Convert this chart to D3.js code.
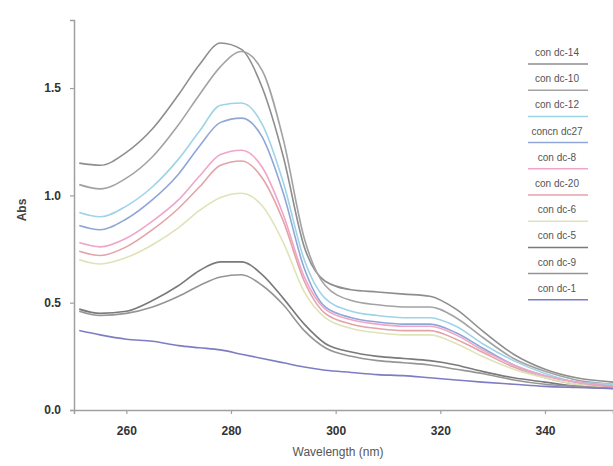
<!DOCTYPE html>
<html>
<head>
<meta charset="utf-8">
<script src="https://cdn.jsdelivr.net/npm/d3@7"></script>
<style>
  body { margin: 0; background: #fff; }
  text { font-family: "Liberation Sans", Arial, sans-serif; }
</style>
</head>
<body>
<svg width="613" height="466"></svg>
<script>
// wavelength samples (nm)
var wavelengths = [251, 255, 260, 265, 270, 274, 278, 282, 286, 290, 294, 298, 303, 308, 313, 318, 323, 328, 334, 340, 346, 353];

var seriesNames = ["con dc-14", "con dc-10", "con dc-12", "concn dc27", "con dc-8", "con dc-20", "con dc-6", "con dc-5", "con dc-9", "con dc-1"];
var seriesColors = ["#8e8e8e", "#a3a3a3", "#9fd3e8", "#8fa6d8", "#efa6c8", "#e3a3a8", "#dfe3b8", "#7a7a7a", "#959595", "#7d7dc4"];

var abs1 = [1.15, 1.14, 1.20, 1.31, 1.47, 1.61, 1.71, 1.68, 1.50, 1.18, 0.76, 0.60, 0.56, 0.55, 0.54, 0.53, 0.47, 0.37, 0.26, 0.19, 0.15, 0.13];
var abs2 = [1.05, 1.03, 1.08, 1.18, 1.33, 1.47, 1.60, 1.67, 1.58, 1.26, 0.80, 0.58, 0.51, 0.49, 0.48, 0.48, 0.43, 0.34, 0.24, 0.18, 0.14, 0.12];
var abs3 = [0.92, 0.90, 0.95, 1.04, 1.17, 1.30, 1.42, 1.43, 1.33, 1.06, 0.70, 0.52, 0.46, 0.44, 0.43, 0.43, 0.39, 0.31, 0.23, 0.17, 0.13, 0.12];
var abs4 = [0.86, 0.84, 0.89, 0.98, 1.10, 1.23, 1.34, 1.36, 1.27, 1.01, 0.66, 0.48, 0.43, 0.41, 0.40, 0.40, 0.36, 0.29, 0.21, 0.16, 0.13, 0.11];
var abs5 = [0.78, 0.76, 0.80, 0.88, 0.98, 1.09, 1.19, 1.21, 1.13, 0.91, 0.62, 0.47, 0.42, 0.40, 0.39, 0.39, 0.35, 0.28, 0.21, 0.16, 0.13, 0.11];
var abs6 = [0.74, 0.72, 0.76, 0.84, 0.94, 1.04, 1.14, 1.16, 1.08, 0.88, 0.60, 0.45, 0.40, 0.38, 0.37, 0.37, 0.33, 0.27, 0.20, 0.15, 0.12, 0.11];
var abs7 = [0.70, 0.68, 0.71, 0.77, 0.85, 0.93, 0.99, 1.01, 0.95, 0.78, 0.55, 0.43, 0.38, 0.36, 0.35, 0.35, 0.31, 0.25, 0.19, 0.15, 0.12, 0.10];
var abs8 = [0.47, 0.45, 0.46, 0.51, 0.58, 0.65, 0.69, 0.69, 0.63, 0.52, 0.40, 0.31, 0.27, 0.25, 0.24, 0.23, 0.21, 0.18, 0.15, 0.13, 0.11, 0.10];
var abs9 = [0.46, 0.44, 0.45, 0.48, 0.53, 0.58, 0.62, 0.63, 0.58, 0.49, 0.37, 0.29, 0.25, 0.23, 0.22, 0.21, 0.19, 0.17, 0.14, 0.12, 0.11, 0.10];
var abs10 = [0.37, 0.35, 0.33, 0.32, 0.30, 0.29, 0.28, 0.26, 0.24, 0.22, 0.20, 0.185, 0.175, 0.165, 0.16, 0.15, 0.14, 0.13, 0.12, 0.11, 0.105, 0.10];

var xTicks = [260, 280, 300, 320, 340];
var yTicks = [0.0, 0.5, 1.0, 1.5];

var allSeries = [abs1, abs2, abs3, abs4, abs5, abs6, abs7, abs8, abs9, abs10];

var svg = d3.select("svg");
var mLeft = 74, mRight = 613, mTop = 20, mBottom = 410;

var x = d3.scaleLinear().domain([250, 353]).range([mLeft, mRight]);
var y = d3.scaleLinear().domain([0, 1.817]).range([mBottom, mTop]);

var line = d3.line()
    .x(function(d, i) { return x(wavelengths[i]); })
    .y(function(d) { return y(d); })
    .curve(d3.curveMonotoneX);

// spectra
svg.selectAll("path.spec")
    .data(allSeries)
  .enter().append("path")
    .attr("class", "spec")
    .attr("fill", "none")
    .attr("stroke", function(d, i) { return seriesColors[i]; })
    .attr("stroke-width", 1.6)
    .attr("d", line);

// axes
var xAxis = svg.append("g")
    .attr("transform", "translate(0," + mBottom + ")")
    .call(d3.axisBottom(x).tickValues(xTicks).tickFormat(d3.format("d")).tickSizeOuter(0).tickSize(4).tickPadding(12));

var yAxis = svg.append("g")
    .attr("transform", "translate(" + mLeft + ",0)")
    .call(d3.axisLeft(y).tickValues(yTicks).tickFormat(d3.format(".1f")).tickSizeOuter(0).tickSize(4).tickPadding(9));

[xAxis, yAxis].forEach(function(g) {
  g.select(".domain").attr("stroke", "#a0a0a0").attr("stroke-width", 1.5);
  g.selectAll(".tick line").attr("stroke", "#a0a0a0").attr("stroke-width", 1.2);
  g.selectAll(".tick text")
      .attr("fill", "#333")
      .style("font-size", "12px")
      .style("font-weight", "bold")
      .style("font-family", "Liberation Sans, Arial, sans-serif");
});

// axis titles
svg.append("text")
    .attr("x", 338)
    .attr("y", 456)
    .attr("text-anchor", "middle")
    .attr("fill", "#555")
    .style("font-size", "12px")
    .text("Wavelength (nm)");

svg.append("text")
    .attr("transform", "translate(26,210) rotate(-90)")
    .attr("text-anchor", "middle")
    .attr("fill", "#444")
    .style("font-size", "12px")
    .style("font-weight", "bold")
    .text("Abs");

// legend: label with its line underneath
var legend = svg.selectAll("g.leg")
    .data(seriesNames)
  .enter().append("g")
    .attr("class", "leg")
    .attr("transform", function(d, i) { return "translate(524," + (56 + i * 26.2) + ")"; });

legend.append("text")
    .attr("x", 33)
    .attr("y", 0)
    .attr("text-anchor", "middle")
    .attr("fill", "#555")
    .style("font-size", "10px")
    .text(function(d) { return d; });

legend.append("line")
    .attr("x1", 4)
    .attr("x2", 64)
    .attr("y1", 8)
    .attr("y2", 8)
    .attr("stroke", function(d, i) { return seriesColors[i]; })
    .attr("stroke-width", 1.5);
</script>
</body>
</html>
